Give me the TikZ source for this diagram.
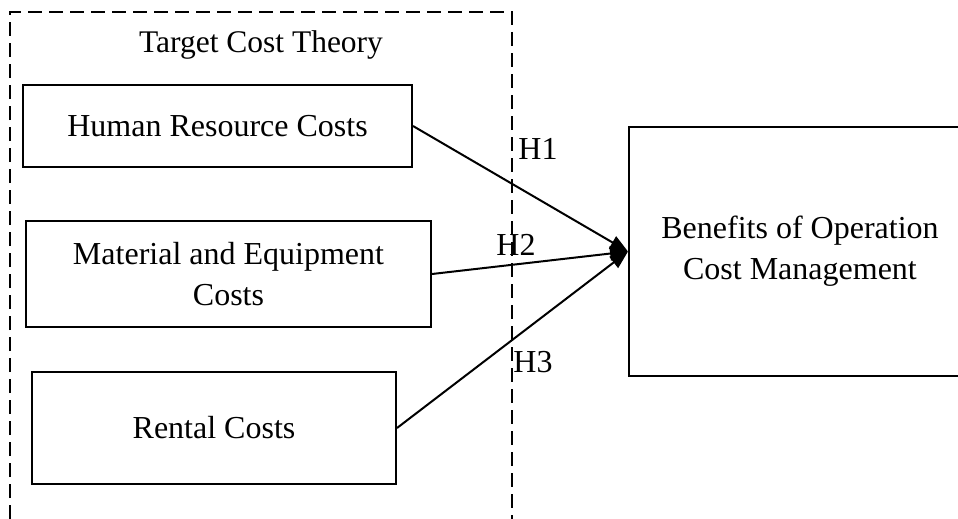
\documentclass[tikz,border=0pt]{standalone}
\usepackage{fontspec}
\setmainfont{Liberation Serif}
\usetikzlibrary{arrows.meta,positioning}
\tikzset{
  costbox/.style={
    rectangle, draw=black, line width=2pt, fill=white,
    align=center, inner sep=0pt, font=\fontsize{32}{41}\selectfont
  },
  hyplabel/.style={font=\fontsize{32}{41}\selectfont, inner sep=0pt},
  linkarrow/.style={-{Triangle[length=18pt,width=14pt]}, black, line width=2pt},
  theoryframe/.style={draw=black, line width=2pt, dash pattern=on 14pt off 7pt},
}

\begin{document}
\begin{tikzpicture}[x=1pt, y=-1pt]
    \clip (0,0) rectangle (958,519);
    % dashed theory frame, open at the bottom
    \draw[theoryframe] (10,519) -- (10,12) -- (512,12) -- (512,519);
    \node[hyplabel, font=\fontsize{31.5}{41}\selectfont] (theory) at (261,45) {Target Cost Theory};

    \node[costbox, minimum width=389pt, minimum height=82pt] (hr) at (217.5,126) {Human Resource Costs};
    \node[costbox, minimum width=405pt, minimum height=106pt] (mat) at (228.5,274) {Material and Equipment\\Costs};
    \node[costbox, minimum width=364pt, minimum height=112pt] (rent) at (214,428) {Rental Costs};
    \node[costbox, minimum width=342pt, minimum height=249pt] (benefit) at (800,251.5) {Benefits of Operation\\Cost Management};

    \draw[linkarrow] (hr.east) -- (benefit.west);
    \draw[linkarrow] (mat.east) -- (benefit.west);
    \draw[linkarrow] (rent.east) -- (benefit.west);

    \node[hyplabel] (h1) at (538,149) {H1};
    \node[hyplabel] (h2) at (516,245) {H2};
    \node[hyplabel] (h3) at (533,362) {H3};
  \end{tikzpicture}
\end{document}
